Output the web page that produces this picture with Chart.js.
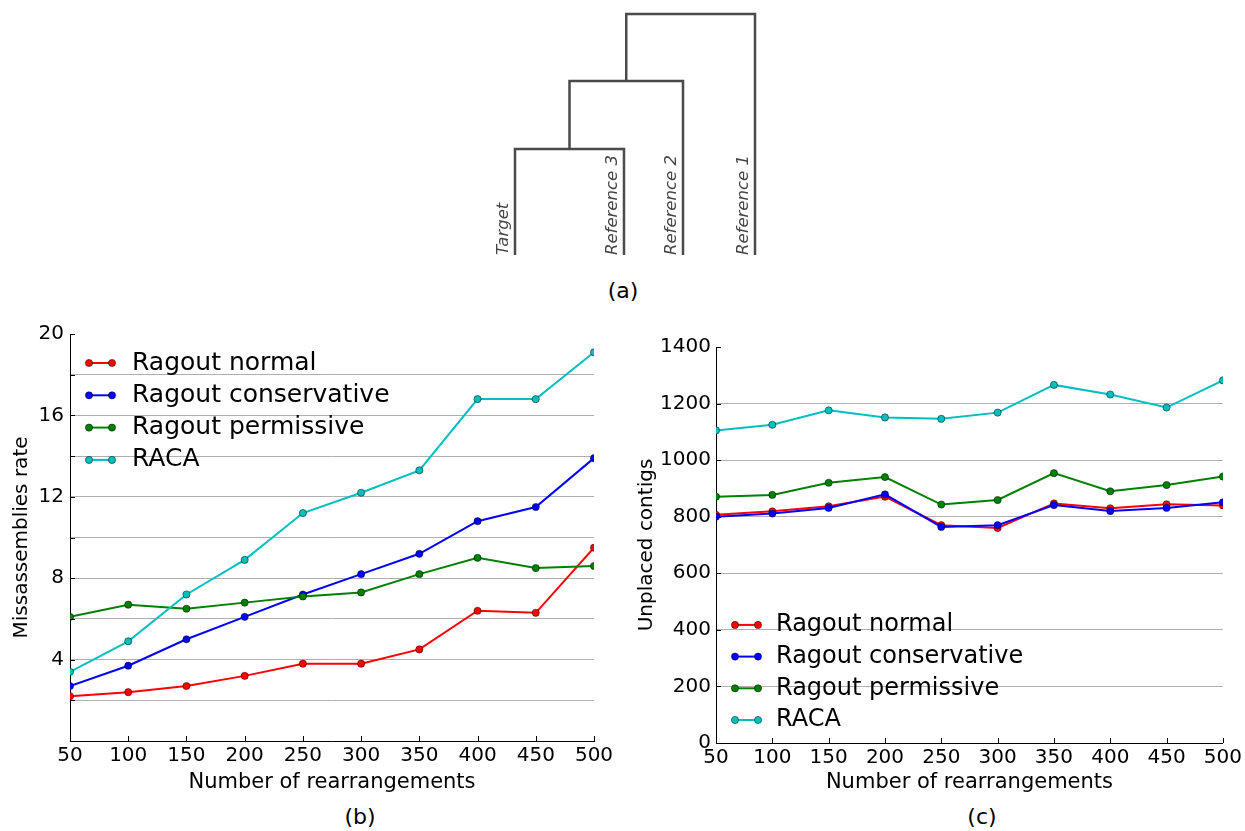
<!DOCTYPE html>
<html>
<head>
<meta charset="utf-8">
<title>Ragout vs RACA</title>
<script src="https://cdn.jsdelivr.net/npm/chart.js@4.4.0/dist/chart.umd.min.js"></script>
<style>
  body { margin: 0; background: #fff; width: 1245px; height: 831px; position: relative; overflow: hidden; font-family: "DejaVu Sans", sans-serif; }
  .box { position: absolute; }
  .cap { position: absolute; font-size: 22px; color: #000; transform: translateX(-50%); line-height: 26px; }
</style>
</head>
<body>
<div class="box" style="left:480px;top:0;"><canvas id="treeChart" width="300" height="270"></canvas></div>
<div class="cap" style="left:623px;top:278px;">(a)</div>
<div class="box" style="left:0;top:316px;"><canvas id="misChart" width="620" height="484"></canvas></div>
<div class="cap" style="left:360px;top:804px;">(b)</div>
<div class="box" style="left:625px;top:330px;"><canvas id="unplacedChart" width="620" height="470"></canvas></div>
<div class="cap" style="left:982px;top:804px;">(c)</div>

<script>
// Data
const rearrangements = [50, 100, 150, 200, 250, 300, 350, 400, 450, 500];
const seriesNames = ['Ragout normal', 'Ragout conservative', 'Ragout permissive', 'RACA'];
const seriesColors = ['#ff0000', '#0000ff', '#008000', '#00bfbf'];

const misNormal = [2.2, 2.4, 2.7, 3.2, 3.8, 3.8, 4.5, 6.4, 6.3, 9.5];
const misConservative = [2.7, 3.7, 5.0, 6.1, 7.2, 8.2, 9.2, 10.8, 11.5, 13.9];
const misPermissive = [6.1, 6.7, 6.5, 6.8, 7.1, 7.3, 8.2, 9.0, 8.5, 8.6];
const misRaca = [3.4, 4.9, 7.2, 8.9, 11.2, 12.2, 13.3, 16.8, 16.8, 19.1];

const unpNormal = [807, 819, 837, 871, 770, 760, 847, 830, 844, 840];
const unpConservative = [800, 811, 831, 879, 764, 770, 841, 820, 831, 851];
const unpPermissive = [871, 877, 920, 940, 843, 859, 954, 890, 912, 942];
const unpRaca = [1105, 1125, 1176, 1151, 1146, 1168, 1266, 1232, 1186, 1282];

const misLabelledTicks = [4, 8, 12, 16, 20];

// Tree (a): leaves, their positions, and merges (scipy-like linkage: ids 0-3 leaves, 4+ merged nodes)
const leafNames = ['Target', 'Reference 3', 'Reference 2', 'Reference 1'];
const leafPos = [0, 109, 168, 240];
const mergePairs = [[0, 1], [4, 2], [5, 3]];
const mergeHeights = [106, 174, 241];

Chart.defaults.font.family = '"DejaVu Sans", sans-serif';
Chart.defaults.color = '#000';

// Legend drawn inside the plot area, matplotlib style
const insideLegend = {
    id: 'insideLegend',
    afterDraw(chart, args, opts) {
        const { ctx, chartArea } = chart;
        const sets = chart.data.datasets;
        const n = sets.length;
        ctx.save();
        ctx.font = opts.fontSize + 'px "DejaVu Sans"';
        ctx.textBaseline = 'middle';
        ctx.textAlign = 'left';
        sets.forEach((ds, i) => {
            const y = opts.anchor === 'top'
                ? chartArea.top + opts.offsetY + i * opts.rowGap
                : chartArea.bottom - opts.offsetY - (n - 1 - i) * opts.rowGap;
            const x0 = chartArea.left + opts.offsetX;
            const x1 = x0 + 23;
            ctx.strokeStyle = ds.borderColor;
            ctx.lineWidth = 2;
            ctx.beginPath();
            ctx.moveTo(x0, y);
            ctx.lineTo(x1, y);
            ctx.stroke();
            [x0, x1].forEach(px => {
                ctx.beginPath();
                ctx.arc(px, y, 3.6, 0, Math.PI * 2);
                ctx.fillStyle = ds.pointBackgroundColor;
                ctx.fill();
                ctx.lineWidth = 0.8;
                ctx.strokeStyle = 'rgba(0,0,0,0.6)';
                ctx.stroke();
            });
            ctx.fillStyle = '#000';
            ctx.fillText(ds.label, chartArea.left + opts.textX, y);
        });
        ctx.restore();
    }
};

// Small inward tick marks on left and bottom axes
const inwardTicks = {
    id: 'inwardTicks',
    afterDraw(chart) {
        const { ctx, chartArea, scales } = chart;
        ctx.save();
        ctx.strokeStyle = '#000';
        ctx.lineWidth = 1;
        scales.x.ticks.forEach(t => {
            const px = Math.round(scales.x.getPixelForValue(t.value)) + 0.5;
            ctx.beginPath();
            ctx.moveTo(px, chartArea.bottom);
            ctx.lineTo(px, chartArea.bottom - 5);
            ctx.stroke();
        });
        scales.y.ticks.forEach(t => {
            const py = Math.round(scales.y.getPixelForValue(t.value)) + 0.5;
            ctx.beginPath();
            ctx.moveTo(chartArea.left, py);
            ctx.lineTo(chartArea.left + 5, py);
            ctx.stroke();
        });
        ctx.restore();
    }
};

function makeDatasets(valueLists) {
    return valueLists.map((vals, i) => ({
        label: seriesNames[i],
        data: rearrangements.map((x, j) => ({ x: x, y: vals[j] })),
        borderColor: seriesColors[i],
        backgroundColor: seriesColors[i],
        pointBackgroundColor: seriesColors[i],
        pointBorderColor: 'rgba(0,0,0,0.6)',
        pointBorderWidth: 0.8,
        pointRadius: 3.6,
        borderWidth: 2,
        tension: 0,
        order: valueLists.length - i
    }));
}

function lineOptions(cfg) {
    return {
        responsive: false,
        animation: false,
        events: [],
        layout: { padding: { top: cfg.padTop, right: cfg.padRight, left: 0, bottom: 0 } },
        plugins: {
            legend: { display: false },
            tooltip: { enabled: false },
            insideLegend: cfg.legend
        },
        scales: {
            x: {
                type: 'linear',
                min: 50,
                max: 500,
                ticks: { stepSize: 50, padding: 3, color: '#000', font: { size: 20 }, maxRotation: 0 },
                grid: { display: false, drawTicks: false },
                border: { display: true, color: '#000', width: 1 },
                title: { display: true, text: 'Number of rearrangements', color: '#000', font: { size: 21 }, padding: { top: 0, bottom: 5 } },
                afterFit: s => { s.height = cfg.xHeight; }
            },
            y: {
                min: 0,
                max: cfg.yMax,
                ticks: {
                    stepSize: cfg.yStep,
                    padding: cfg.yPad,
                    color: '#000',
                    font: { size: 20 },
                    autoSkip: false,
                    callback: cfg.yLabel
                },
                grid: {
                    drawTicks: false,
                    lineWidth: 1,
                    color: c => (c.tick && c.tick.value > 0 && c.tick.value < cfg.yMax) ? '#b0b0b0' : 'rgba(0,0,0,0)'
                },
                border: { display: true, color: '#000', width: 1 },
                title: { display: true, text: cfg.yTitle, color: '#000', font: { size: 20 }, padding: { top: 10, bottom: 0 } },
                afterFit: s => { s.width = cfg.yWidth; }
            }
        }
    };
}

// (b) Missassemblies rate
new Chart(document.getElementById('misChart').getContext('2d'), {
    type: 'line',
    data: { datasets: makeDatasets([misNormal, misConservative, misPermissive, misRaca]) },
    options: lineOptions({
        padTop: 13, padRight: 26, xHeight: 59, yWidth: 70, yPad: 6,
        yMax: 20, yStep: 2,
        yLabel: v => misLabelledTicks.includes(v) ? String(v) : '',
        yTitle: 'Missassemblies rate',
        legend: { anchor: 'top', offsetX: 19, offsetY: 29, rowGap: 32.3, textX: 62, fontSize: 25 }
    }),
    plugins: [insideLegend, inwardTicks]
});

// (c) Unplaced contigs
new Chart(document.getElementById('unplacedChart').getContext('2d'), {
    type: 'line',
    data: { datasets: makeDatasets([unpNormal, unpConservative, unpPermissive, unpRaca]) },
    options: lineOptions({
        padTop: 17, padRight: 22, xHeight: 57, yWidth: 91, yPad: 5,
        yMax: 1400, yStep: 200,
        yLabel: v => String(v),
        yTitle: 'Unplaced contigs',
        legend: { anchor: 'bottom', offsetX: 19, offsetY: 23, rowGap: 31.7, textX: 60, fontSize: 24 }
    }),
    plugins: [insideLegend, inwardTicks]
});

// (a) Dendrogram built from the merge list
const nodeX = leafPos.slice();
const nodeH = leafPos.map(() => 0);
const treeSets = mergePairs.map(([a, b], k) => {
    const h = mergeHeights[k];
    const pts = [
        { x: nodeX[a], y: nodeH[a] },
        { x: nodeX[a], y: h },
        { x: nodeX[b], y: h },
        { x: nodeX[b], y: nodeH[b] }
    ];
    nodeX.push((nodeX[a] + nodeX[b]) / 2);
    nodeH.push(h);
    return {
        data: pts,
        showLine: true,
        borderColor: '#4a4a4a',
        borderWidth: 2.5,
        borderJoinStyle: 'miter',
        pointRadius: 0,
        tension: 0
    };
});

const leafLabels = {
    id: 'leafLabels',
    afterDraw(chart) {
        const { ctx, scales } = chart;
        ctx.save();
        ctx.font = 'italic 16.5px "DejaVu Sans"';
        ctx.fillStyle = '#444';
        ctx.textAlign = 'left';
        ctx.textBaseline = 'alphabetic';
        leafNames.forEach((name, i) => {
            const px = scales.x.getPixelForValue(leafPos[i]);
            const py = scales.y.getPixelForValue(0);
            ctx.save();
            ctx.translate(px - 7, py);
            ctx.rotate(-Math.PI / 2);
            ctx.fillText(name, 0, 0);
            ctx.restore();
        });
        ctx.restore();
    }
};

new Chart(document.getElementById('treeChart').getContext('2d'), {
    type: 'scatter',
    data: { datasets: treeSets },
    options: {
        responsive: false,
        animation: false,
        events: [],
        layout: { padding: 0 },
        plugins: { legend: { display: false }, tooltip: { enabled: false } },
        scales: {
            x: { type: 'linear', min: -35, max: 265, display: false },
            y: { type: 'linear', min: -15, max: 255, display: false }
        }
    },
    plugins: [leafLabels]
});
</script>
</body>
</html>
